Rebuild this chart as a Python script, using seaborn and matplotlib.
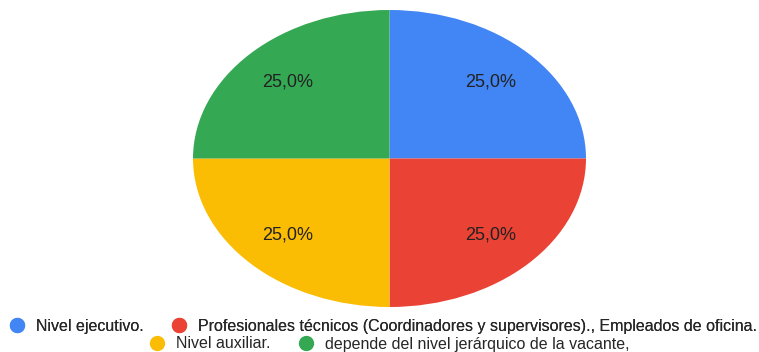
import matplotlib
matplotlib.use("Agg")
import matplotlib.pyplot as plt
import seaborn as sns
from matplotlib.lines import Line2D

# data
categories = [
    "Nivel ejecutivo.",
    "Profesionales técnicos (Coordinadores y supervisores)., Empleados de oficina.",
    "Nivel auxiliar.",
    "depende del nivel jerárquico de la vacante,",
]
values = [25.0, 25.0, 25.0, 25.0]
colors = ["#4285F4", "#EA4335", "#FBBC04", "#34A853"]

sns.set_theme(style="white")
plt.rcParams["font.family"] = ["Liberation Sans", "DejaVu Sans"]

fig = plt.figure(figsize=(7.59, 3.52), dpi=100)
ax = fig.add_axes([193 / 759, 45 / 352, 393 / 759, 297 / 352])

ax.pie(values, colors=colors, startangle=90, counterclock=False,
       autopct=lambda p: f"{p:.1f}%".replace(".", ","), pctdistance=0.73,
       textprops={"fontsize": 13, "color": "#222222"},
       wedgeprops={"linewidth": 0})
ax.set_aspect("auto")
ax.set_xlim(-1, 1)
ax.set_ylim(-1, 1)

# legend laid out in two rows like the original
handles = [Line2D([], [], marker="o", linestyle="", markersize=10,
                  markerfacecolor=c, markeredgecolor=c) for c in colors]

leg_kw = dict(loc="center", ncol=2, frameon=False, fontsize=11.5,
              handletextpad=0.6, columnspacing=1.6, handlelength=1.2,
              borderaxespad=0, borderpad=0)
row1 = fig.legend(handles[:2], categories[:2],
                  bbox_to_anchor=(0.504, 1 - 326 / 352), **leg_kw)
fig.legend(handles[2:], categories[2:],
           bbox_to_anchor=(0.512, 1 - 344 / 352), **leg_kw)
fig.add_artist(row1)

fig.savefig("out.png", dpi=100)
